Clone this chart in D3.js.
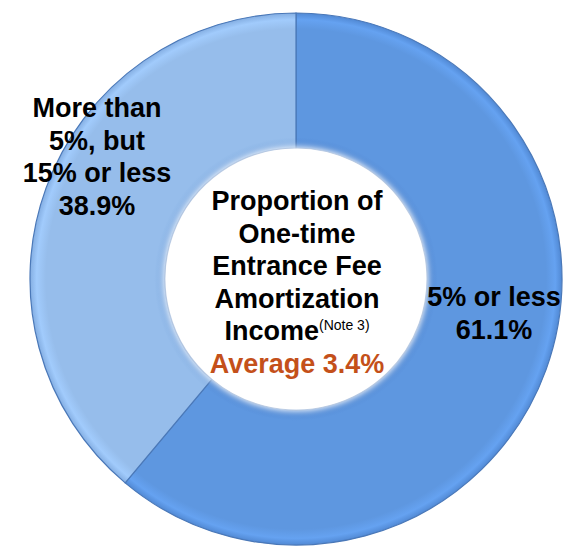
<!DOCTYPE html>
<html>
<head>
<meta charset="utf-8">
<script src="https://cdn.jsdelivr.net/npm/d3@7"></script>
<style>
  body { margin: 0; background: #fff; }
  svg text { font-family: "Liberation Sans", Arial, sans-serif; font-weight: bold; }
</style>
</head>
<body>
<svg id="drawing_region"></svg>
<script>
// data
const categories = ["5% or less", "More than 5%, but 15% or less"];
const shares = [61.1, 38.9];
const sliceLabels = [["5% or less"], ["More than", "5%, but", "15% or less"]];
const centerLines = ["Proportion of", "One-time", "Entrance Fee", "Amortization", "Income"];
const noteText = "(Note 3)";
const averageText = "Average 3.4%";

const config = {
    width: 564,
    height: 553,
    cx: 296,
    cy: 279,
    outer: 266,
    inner: 131,
    colors: ["#5e97e0", "#96bdeb"],
    edges: ["#5189d4", "#84aee2"],
    lineHeight: 32.5,
    fontSize: 27
};

// where each slice label block sits, relative to the donut centre
const labelPos = [
    { dx: 198, dy: 27 },
    { dx: -199, dy: -162 }
];

const svg = d3.select("#drawing_region")
    .attr("width", config.width)
    .attr("height", config.height);

const defs = svg.append("defs");

// gradients live in the chart group's coordinates (origin = donut centre)
config.colors.forEach((c, i) => {
    const g = defs.append("radialGradient")
        .attr("id", "grad" + i)
        .attr("gradientUnits", "userSpaceOnUse")
        .attr("cx", 0).attr("cy", 0)
        .attr("r", config.outer);
    const k = config.inner / config.outer;
    [[k, config.edges[i]], [k + 0.04, c], [0.94, c],
     [0.975, d3.color(c).brighter(0.2).formatHex()], [1, config.edges[i]]]
        .forEach(s => g.append("stop").attr("offset", s[0]).attr("stop-color", s[1]));
});

defs.append("filter").attr("id", "soft")
    .attr("x", "-20%").attr("y", "-20%").attr("width", "140%").attr("height", "140%")
    .append("feGaussianBlur").attr("stdDeviation", 3);

const chart = svg.append("g")
    .attr("transform", `translate(${config.cx},${config.cy})`);

const pie = d3.pie().sort(null).value(d => d);
const arc = d3.arc().innerRadius(config.inner).outerRadius(config.outer);

chart.selectAll("path.slice")
    .data(pie(shares))
    .join("path")
    .attr("class", "slice")
    .attr("d", arc)
    .attr("fill", (d, i) => `url(#grad${i})`)
    .attr("stroke", "#4a78b8")
    .attr("stroke-width", 1.2);

// soft white hole
chart.append("circle")
    .attr("r", config.inner + 1)
    .attr("fill", "#fff")
    .attr("filter", "url(#soft)");

// slice labels
shares.forEach((v, i) => {
    const lines = sliceLabels[i].concat([v.toFixed(1) + "%"]);
    const t = chart.append("text")
        .attr("text-anchor", "middle")
        .attr("font-size", config.fontSize)
        .attr("fill", "#000");
    lines.forEach((s, j) => {
        t.append("tspan")
            .attr("x", labelPos[i].dx)
            .attr("y", labelPos[i].dy + j * config.lineHeight)
            .text(s);
    });
});

// centre text
const top0 = -69;
centerLines.forEach((s, j) => {
    const t = chart.append("text")
        .attr("text-anchor", "middle")
        .attr("x", 1)
        .attr("y", top0 + j * config.lineHeight)
        .attr("font-size", config.fontSize)
        .attr("fill", "#000")
        .text(s);
    if (j === centerLines.length - 1) {
        t.append("tspan")
            .attr("dy", -10)
            .attr("font-size", 14)
            .attr("font-weight", "normal")
            .text(noteText);
    }
});

chart.append("text")
    .attr("text-anchor", "middle")
    .attr("x", 1)
    .attr("y", top0 + centerLines.length * config.lineHeight)
    .attr("font-size", config.fontSize)
    .attr("fill", "#c4501a")
    .text(averageText);
</script>
</body>
</html>
